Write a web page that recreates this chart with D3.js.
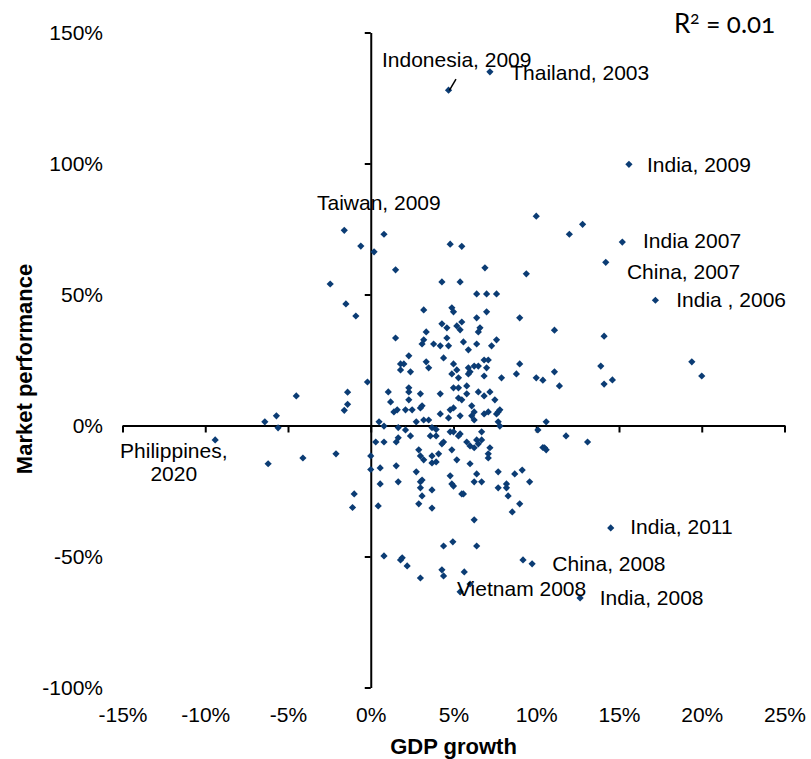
<!DOCTYPE html>
<html>
<head>
<meta charset="utf-8">
<script src="https://cdn.jsdelivr.net/npm/d3@7/dist/d3.min.js"></script>
<style>
  html, body { margin: 0; padding: 0; background: #fff; }
  svg { display: block; font-family: "Liberation Sans", Arial, sans-serif; }
</style>
</head>
<body>
<svg id="chart"></svg>
<script>
// GDP growth (%) and market performance (%) for each country-year
const gdpGrowth = [
  4.7, 7.2, 15.6, 10.0, 12.8, 12.0, 15.2, 4.8, 5.5, -1.6,
  -0.6, 0.2, 0.8, 14.2, 17.2, 11.1, 14.1, 11.1, 10.4, 11.4,
  13.9, 14.1, 14.6, 19.4, 20.0, 10.6, 11.8, 13.1, 10.4, -0.2,
  -1.4, -1.4, -1.6, -4.5, -5.7, -6.4, -5.6, -9.4, -4.1, -6.2,
  -2.1, -1.0, -1.1, 0.0, 0.0, 0.3, 0.5, -2.45, -1.5, -0.9,
  1.5, 1.5, 6.9, 9.4, 4.3, 5.4, 6.4, 7.0, 7.6, 3.2,
  4.9, 5.0, 7.0, 6.4, 9.0, 4.3, 4.6, 5.5, 5.2, 5.4,
  6.6, 6.5, 3.35, 3.2, 3.1, 3.8, 4.2, 4.6, 4.7, 5.6,
  5.9, 6.4, 7.3, 7.6, 4.4, 3.35, 3.5, 2.3, 1.8, 2.0,
  1.8, 2.4, 5.0, 5.2, 4.9, 5.3, 5.9, 6.0, 5.9, 6.25,
  6.5, 6.85, 7.1, 7.0, 6.85, 7.9, 8.8, 9.0, 10.0, 1.06,
  1.2, 1.4, 1.6, 2.3, 2.3, 2.3, 2.1, 2.5, 3.0, 3.1,
  3.0, 2.75, 3.2, 3.5, 4.2, 4.2, 4.7, 4.8, 5.0, 5.0,
  5.3, 5.3, 5.5, 5.4, 5.8, 5.8, 6.1, 6.25, 6.1, 6.25,
  6.5, 6.85, 6.85, 7.1, 7.2, 7.5, 7.6, 7.7, 7.8, 7.7,
  7.8, 0.8, 1.66, 2.1, 3.7, 3.95, 2.4, 1.66, 1.54, 0.8,
  3.6, 3.95, 4.8, 5.0, 5.4, 5.3, 5.8, 6.4, 6.7, 6.7,
  6.5, 6.25, 7.2, 7.1, 7.1, 4.3, 4.4, 4.1, 4.9, 2.9,
  3.0, 3.2, 3.7, 3.7, 3.95, 5.2, 6.0, 0.57, 1.54, 2.75,
  1.66, 0.57, 0.45, 3.0, 3.1, 3.0, 3.1, 2.9, 3.7, 3.7,
  4.8, 4.9, 5.0, 5.5, 5.6, 6.4, 6.25, 6.7, 7.7, 7.7,
  8.2, 8.2, 8.3, 8.7, 9.15, 9.6, 9.0, 8.55, 6.25, 10.1,
  10.5, 10.6, 6.0, 14.5, 4.4, 4.96, 6.4, 0.8, 1.8, 1.9,
  2.2, 3.0, 4.3, 4.4, 5.65, 6.0, 5.4, 9.2, 9.75, 12.65
];
const marketPerformance = [
  128, 135, 99.7, 79.9, 76.8, 73.0, 70.0, 69.2, 68.4, 74.5,
  68.5, 66.3, 73.0, 62.3, 47.8, 36.4, 34.1, 20.5, 17.3, 15.1,
  22.7, 15.8, 17.4, 24.3, 18.9, 1.4, -4.0, -6.3, -8.4, 16.6,
  12.7, 8.1, 5.8, 11.3, 3.7, 1.4, -0.9, -5.5, -12.4, -14.6,
  -10.8, -26.1, -31.3, -11.6, -16.8, -6.3, 1.4, 54.0, 46.4, 41.8,
  59.4, 33.4, 60.2, 57.9, 54.8, 54.8, 50.2, 50.2, 50.2, 44.1,
  44.9, 43.4, 43.4, 41.1, 41.1, 38.8, 37.3, 39.5, 38.0, 36.5,
  37.3, 35.7, 35.7, 32.7, 31.1, 31.1, 30.4, 33.4, 30.4, 31.9,
  28.9, 31.1, 30.4, 32.7, 25.8, 24.3, 22.0, 26.6, 23.5, 23.5,
  21.2, 20.5, 23.5, 21.2, 19.7, 18.2, 22.0, 20.5, 19.7, 22.7,
  22.7, 25.0, 25.0, 22.0, 18.9, 18.2, 19.7, 23.5, 18.2, 12.8,
  9.0, 5.2, 6.0, 14.4, 12.8, 9.8, 6.0, 6.0, 12.1, 7.5,
  6.7, 1.4, 2.1, 2.1, 12.1, 4.4, 2.9, 6.0, 14.4, 6.7,
  14.4, 10.5, 9.8, 3.7, 15.1, 12.1, 7.5, 5.2, 3.7, 2.1,
  12.8, 11.3, 4.4, 5.2, 12.8, 9.8, 4.4, 5.2, 6.0, 1.4,
  -0.2, -0.2, -0.8, -1.7, -0.8, -1.5, -4.0, -4.7, -6.3, -6.3,
  -4.0, -4.0, -2.4, -2.4, -3.2, -4.0, -6.3, -5.5, -2.4, -5.5,
  -7.0, -8.5, -8.5, -10.8, -12.4, -7.0, -6.3, -10.8, -9.3, -9.3,
  -11.6, -13.1, -11.6, -14.3, -13.9, -13.1, -14.6, -16.2, -15.4, -17.7,
  -21.5, -22.3, -30.7, -21.5, -20.8, -23.8, -26.9, -29.9, -24.6, -31.5,
  -19.2, -22.3, -23.1, -26.1, -26.1, -18.5, -21.5, -21.5, -17.7, -23.8,
  -22.3, -23.8, -26.9, -18.5, -17.0, -21.5, -29.9, -33.0, -36.0, -1.7,
  -8.5, -9.3, -7.8, -39.1, -46.0, -44.4, -46.0, -49.8, -51.3, -50.5,
  -53.6, -58.2, -55.1, -57.4, -55.9, -60.5, -63.5, -51.3, -52.8, -65.8
];

const xTicks = [-15, -10, -5, 0, 5, 10, 15, 20, 25];
const yTicks = [-100, -50, 0, 50, 100, 150];

// annotated points: label text and where the label starts (data units)
const labelText = ["Indonesia, 2009", "Thailand, 2003", "India, 2009", "Taiwan, 2009",
  "India 2007", "China, 2007", "India , 2006", "India, 2011", "China, 2008",
  "Vietnam 2008", "India, 2008"];
const labelGdp = [0.68, 8.43, 16.69, -3.25, 16.45, 15.48, 18.46, 15.68, 10.97, 5.21, 13.83];
const labelPerf = [139.8, 134.7, 99.7, 85.0, 70.7, 58.6, 48.1, -38.7, -52.7, -62.2, -65.8];
const rSquared = 0.01;

const width = 811;
const height = 759;

const svg = d3.select('#chart')
  .attr('width', width)
  .attr('height', height);

const x = d3.scaleLinear().domain([-15, 25]).range([122.5, 784.5]);
const y = d3.scaleLinear().domain([-100, 150]).range([687.5, 32.5]);
const pct = d => d + '%';

// axes crossing at the origin
const xAxis = svg.append('g')
  .attr('transform', `translate(0,${y(0)})`)
  .call(d3.axisBottom(x).tickValues(xTicks).tickSize(7).tickSizeOuter(0).tickFormat(''));
const yAxis = svg.append('g')
  .attr('transform', `translate(${x(0)},0)`)
  .call(d3.axisLeft(y).tickValues(yTicks).tickSize(6).tickSizeOuter(0).tickFormat(''));
[xAxis, yAxis].forEach(a => {
  a.selectAll('path, line').attr('stroke', '#000').attr('stroke-width', 2);
});

// tick labels sit at the low end of the chart
const xLabels = svg.append('g')
  .attr('transform', 'translate(0,707)')
  .call(d3.axisBottom(x).tickValues(xTicks).tickSize(0).tickPadding(0).tickFormat(pct));
const yLabels = svg.append('g')
  .attr('transform', 'translate(109,0)')
  .call(d3.axisLeft(y).tickValues(yTicks).tickSize(0).tickPadding(6).tickFormat(pct));
[xLabels, yLabels].forEach(a => {
  a.select('.domain').remove();
  a.selectAll('text')
    .attr('fill', '#000')
    .style('font-family', '"Liberation Sans", Arial, sans-serif')
    .style('font-size', '21px');
});

// points
svg.append('g')
  .selectAll('path')
  .data(gdpGrowth.map((g, i) => [g, marketPerformance[i]]))
  .enter()
  .append('path')
  .attr('d', d3.symbol(d3.symbolSquare, 26))
  .attr('transform', d => `translate(${x(d[0])},${y(d[1])}) rotate(45)`)
  .attr('fill', '#0b3c74');

// leader line for Indonesia
svg.append('line')
  .attr('x1', x(5.15)).attr('y1', y(132.2))
  .attr('x2', x(4.75)).attr('y2', y(127.9))
  .attr('stroke', '#000')
  .attr('stroke-width', 1.5);

// data labels
svg.append('g')
  .selectAll('text')
  .data(labelText)
  .enter()
  .append('text')
  .attr('x', (d, i) => x(labelGdp[i]))
  .attr('y', (d, i) => y(labelPerf[i]))
  .attr('dy', '0.35em')
  .style('font-size', '21px')
  .attr('fill', '#000')
  .text(d => d);

const phil = svg.append('text')
  .attr('text-anchor', 'middle')
  .style('font-size', '21px')
  .attr('fill', '#000');
phil.append('tspan').attr('x', x(-11.9)).attr('y', y(-9.5)).attr('dy', '0.35em').text('Philippines,');
phil.append('tspan').attr('x', x(-11.9)).attr('y', y(-18.4)).attr('dy', '0.35em').text('2020');

// R squared
const r2 = svg.append('text')
  .attr('x', 674)
  .attr('y', 33)
  .style('font-family', 'Lato, "Open Sans", sans-serif')
  .style('font-size', '26px')
  .style('font-feature-settings', '"onum" 1')
  .attr('fill', '#000');
r2.append('tspan').text('R');
r2.append('tspan').attr('dy', -9).style('font-size', '17px').text('2');
r2.append('tspan').attr('dy', 9).text(` = ${rSquared.toFixed(2)}`);

// axis titles
svg.append('text')
  .attr('x', (x.range()[0] + x.range()[1]) / 2)
  .attr('y', 754)
  .attr('text-anchor', 'middle')
  .style('font-size', '22px')
  .style('font-weight', 'bold')
  .text('GDP growth');

svg.append('text')
  .attr('transform', `translate(32,369) rotate(-90)`)
  .attr('text-anchor', 'middle')
  .style('font-size', '22px')
  .style('font-weight', 'bold')
  .text('Market performance');
</script>
</body>
</html>
